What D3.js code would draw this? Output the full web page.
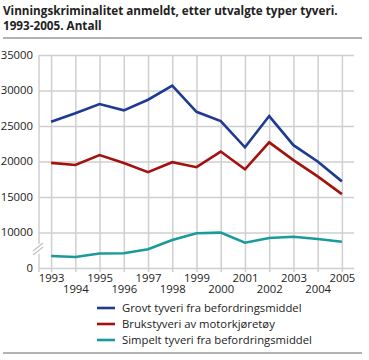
<!DOCTYPE html>
<html>
<head>
<meta charset="utf-8">
<script src="https://cdn.jsdelivr.net/npm/d3@7"></script>
<style>
  body { margin: 0; background: #fff; }
  svg text { font-family: "Open Sans", sans-serif; fill: #222; }
</style>
</head>
<body>
<div id="chart"></div>
<script>
// values
const years = [1993, 1994, 1995, 1996, 1997, 1998, 1999, 2000, 2001, 2002, 2003, 2004, 2005];
const grovt = [25600, 26800, 28100, 27200, 28700, 30700, 27000, 25700, 22000, 26400, 22300, 20000, 17200];
const bruks = [19800, 19500, 20900, 19800, 18500, 19900, 19200, 21400, 18900, 22700, 20200, 17900, 15400];
const simpelt = [6700, 6550, 7050, 7070, 7630, 8940, 9890, 9980, 8560, 9230, 9410, 9080, 8700];
const seriesNames = ['Grovt tyveri fra befordringsmiddel', 'Brukstyveri av motorkjøretøy', 'Simpelt tyveri fra befordringsmiddel'];
const seriesColors = ['#1f3a93', '#a3120e', '#1a9b9b'];
const yTicks = [5000, 10000, 15000, 20000, 25000, 30000, 35000];

const width = 369, height = 360;
const plot = {left: 39, right: 354, top: 55, bottom: 268};
const fontSize = '11.3px';

const svg = d3.select('#chart').append('svg')
    .attr('width', width).attr('height', height);

// title
svg.append('text').attr('x', 3).attr('y', 15)
    .style('font-weight', 'bold').style('font-size', '11.7px')
    .text('Vinningskriminalitet anmeldt, etter utvalgte typer tyveri.');
svg.append('text').attr('x', 3).attr('y', 29.5)
    .style('font-weight', 'bold').style('font-size', '11.7px')
    .text('1993-2005. Antall');
svg.append('line').attr('x1', 3).attr('x2', 362).attr('y1', 38).attr('y2', 38)
    .attr('stroke', '#9a9a9a').attr('stroke-width', 1.5);

const x = d3.scalePoint().domain(years).range([plot.left, plot.right]).padding(0.5);
// axis is broken: bottom of the plot stands for 0, real scale starts at 5000
const y = d3.scaleLinear().domain([5000, 35000]).range([plot.bottom, plot.top]);

// horizontal gridlines
svg.append('g')
    .attr('transform', `translate(${plot.left},0)`)
    .call(d3.axisLeft(y).tickValues(yTicks).tickSize(-(plot.right - plot.left)).tickFormat(''))
    .call(g => g.select('.domain').remove())
    .call(g => g.selectAll('line').attr('stroke', '#cfcfcf').attr('stroke-width', 1.5));

// vertical gridlines, a bit past the baseline like ticks
svg.append('g')
    .attr('transform', `translate(0,${plot.bottom + 4})`)
    .call(d3.axisBottom(x).tickSize(plot.bottom + 4 - plot.top).tickFormat(''))
    .call(g => g.select('.domain').remove())
    .call(g => g.selectAll('line').attr('stroke', '#cfcfcf').attr('stroke-width', 1.5)
        .attr('y1', 0).attr('y2', -(plot.bottom + 4 - plot.top)));

// left axis line
svg.append('line').attr('x1', plot.left).attr('x2', plot.left)
    .attr('y1', plot.top).attr('y2', plot.bottom + 4)
    .attr('stroke', '#cfcfcf').attr('stroke-width', 1.5);

// y labels
const yAxis = svg.append('g')
    .attr('transform', `translate(${plot.left},0)`)
    .call(d3.axisLeft(y).tickValues(yTicks).tickSize(0).tickPadding(6)
        .tickFormat(d => d === 5000 ? '0' : d));
yAxis.select('.domain').remove();
yAxis.selectAll('text').style('font-size', fontSize).style('font-family', '"Open Sans", sans-serif')
    .attr('fill', '#222').attr('dy', '0.3em');

// axis break marker
const brk = svg.append('g').attr('transform', `translate(${plot.left},250)`);
brk.append('rect').attr('x', -4).attr('y', -6).attr('width', 8).attr('height', 10).attr('fill', '#fff');
[-2, 2].forEach(o => {
    brk.append('line').attr('x1', -6).attr('y1', 3 + o).attr('x2', 4).attr('y2', -5 + o)
        .attr('stroke', '#c4c4c4').attr('stroke-width', 1.3);
});

// x labels, alternating rows
const xAxis = svg.append('g')
    .attr('transform', `translate(0,${plot.bottom})`)
    .call(d3.axisBottom(x).tickSize(0).tickPadding(0));
xAxis.select('.domain').remove();
xAxis.selectAll('text')
    .style('font-size', fontSize).style('font-family', '"Open Sans", sans-serif').attr('fill', '#222')
    .attr('dy', null)
    .attr('y', (d, i) => i % 2 === 0 ? 14 : 25);

// lines
const line = d3.line().x((d, i) => x(years[i])).y(d => y(d));
[grovt, bruks, simpelt].forEach((s, k) => {
    svg.append('path').datum(s)
        .attr('d', line)
        .attr('fill', 'none')
        .attr('stroke', seriesColors[k])
        .attr('stroke-width', 2.6)
        .attr('stroke-linejoin', 'miter');
});

// legend
const legend = svg.append('g').attr('transform', 'translate(97,308)');
seriesNames.forEach((name, k) => {
    const row = legend.append('g').attr('transform', `translate(0,${k * 16})`);
    row.append('line').attr('x1', 0).attr('x2', 18).attr('y1', 0).attr('y2', 0)
        .attr('stroke', seriesColors[k]).attr('stroke-width', 2.6);
    row.append('text').attr('x', 25).attr('y', 4).style('font-size', fontSize).text(name);
});

// bottom rule
svg.append('line').attr('x1', 3).attr('x2', 362).attr('y1', 353).attr('y2', 353)
    .attr('stroke', '#9a9a9a').attr('stroke-width', 1.5);
</script>
</body>
</html>
